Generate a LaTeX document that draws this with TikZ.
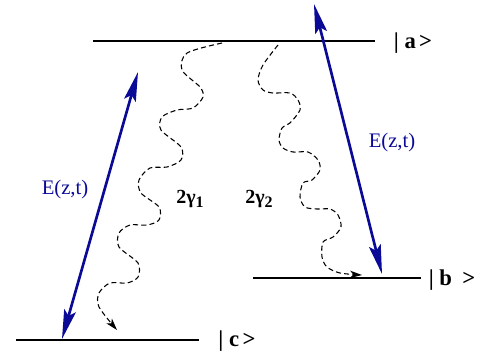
\documentclass[tikz,border=0pt]{standalone}
\usepackage{fontspec}
\setmainfont{Liberation Serif}
\usetikzlibrary{arrows.meta}
\definecolor{fieldblue}{RGB}{10,10,150}

\begin{document}
\begin{tikzpicture}[x=0.75pt,y=-0.75pt,
  level/.style = {draw=black,line width=2pt},
  field/.style = {draw=fieldblue,line width=2pt,{Stealth[length=22pt,width=9pt,inset=4pt]}-{Stealth[length=22pt,width=9pt,inset=4pt]}},
  decay/.style = {draw=black,line width=0.8pt,dash pattern=on 3.8pt off 2.4pt,-{Stealth[length=9pt,width=5.5pt,inset=2.5pt]}},
  ket/.style = {font=\fontsize{17}{20}\selectfont\bfseries},
  flbl/.style = {text=fieldblue,font=\fontsize{15.5}{18}\selectfont},
  rate/.style = {font=\fontsize{15}{18}\selectfont\bfseries}]
\useasboundingbox (0,0) rectangle (481,358);
% energy levels
\coordinate (a1) at (93,41);
\coordinate (a2) at (375,41);
\coordinate (b1) at (253,278);
\coordinate (b2) at (421,278);
\coordinate (c1) at (16,340);
\coordinate (c2) at (199,340);
\node (ka) [ket] at (413,43) {|\hspace{0.25em}a\hspace{0.15em}>};
\node (kb) [ket] at (452,280) {|\hspace{0.25em}b\hspace{0.45em}>};
\node (kc) [ket] at (237,341) {|\hspace{0.25em}c\hspace{0.15em}>};
\foreach \from/\to in {a1/a2,b1/b2,c1/c2}
\draw[level] (\from) -- (\to);
% driving fields
\coordinate (f1) at (62,339);
\coordinate (f2) at (138,72);
\coordinate (f3) at (314,4);
\coordinate (f4) at (382,274);
\draw[field] (f1) -- (f2);
\draw[field] (f3) -- (f4);
\node (e1) [flbl] at (65,190) {E(z,t)};
\node (e2) [flbl] at (392,143) {E(z,t)};
% spontaneous decay
\coordinate (g1s) at (222,43);
\coordinate (g1e) at (117,330);
\coordinate (g2s) at (278,45);
\coordinate (g2e) at (362,275);
\draw[decay] plot[smooth] coordinates {(g1s) (187,53) (182,70) (200,87) (203,97) (193,108) (177,110) (162,117) (161,130) (181,147) (181,160) (167,167) (150,168) (139,180) (141,193) (159,207) (159,220) (147,225) (130,225) (119,233) (119,247) (138,263) (138,277) (127,283) (110,283) (99,293) (99,307) (g1e)};
\draw[decay] plot[smooth] coordinates {(g2s) (263,65) (258,80) (263,90) (273,93) (290,93) (298,100) (300,110) (290,123) (282,128) (279,140) (283,148) (293,152) (308,152) (318,160) (320,170) (312,180) (303,183) (300,197) (305,207) (317,209) (330,209) (338,215) (341,227) (333,237) (323,242) (322,257) (327,267) (340,273) (g2e)};
\node (r1) [rate] at (190,199) {2γ\raisebox{-0.4ex}{\fontsize{12}{13}\selectfont 1}};
\node (r2) [rate] at (259,199) {2γ\raisebox{-0.4ex}{\fontsize{12}{13}\selectfont 2}};
\end{tikzpicture}
\end{document}
